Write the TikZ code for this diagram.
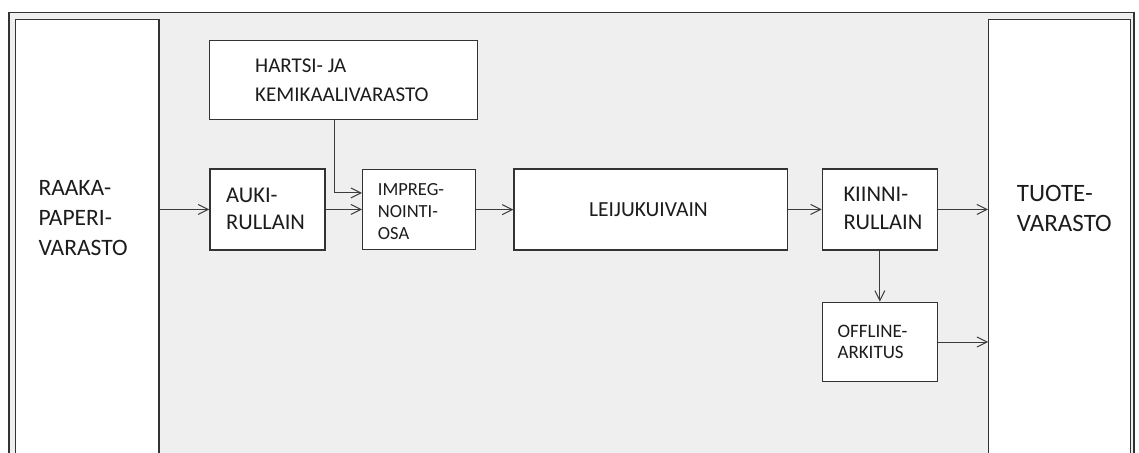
\documentclass[tikz,border=0pt]{standalone}
\usepackage{fontspec}
\setmainfont{Carlito}
\usetikzlibrary{arrows.meta,calc}
\definecolor{panel}{HTML}{EFEFEF}
\definecolor{edge}{HTML}{333333}
\definecolor{ink}{HTML}{1C1C1C}
\definecolor{wire}{HTML}{3C3C3C}
\tikzset{
  box/.style={draw=edge, line width=1.3pt, fill=white, inner sep=0pt, anchor=north west},
  txt/.style={text=ink, inner sep=0pt, align=left, anchor=base west},
  arr/.style={draw=wire, line width=1pt, -{Straight Barb[length=10pt,width=10pt]}},
}
\begin{document}
\begin{tikzpicture}[x=1pt,y=-1pt]
\useasboundingbox (0,0) rectangle (1139,452);
\clip (0,0) rectangle (1139,452);
% outer panel
\fill[white] (0,0) rectangle (1139,452);
\draw[draw=edge, line width=1.3pt, fill=panel] (9,12.5) rectangle (1134,470);

% boxes
\node[box, minimum width=143.3pt, minimum height=450pt] (raaka) at (15,19) {};
\node[box, minimum width=268pt, minimum height=79pt] (hartsi) at (209,40) {};
\node[box, minimum width=115pt, minimum height=81pt] (auki) at (209.3,168.3) {};
\node[box, minimum width=113pt, minimum height=80pt] (impreg) at (362,169) {};
\node[box, minimum width=273.4pt, minimum height=81pt] (leiju) at (513.3,168.3) {};
\node[box, minimum width=115pt, minimum height=81pt] (kiinni) at (821.7,168.3) {};
\node[box, minimum width=115pt, minimum height=79.3pt] (offline) at (821.7,301.7) {};
\node[box, minimum width=142pt, minimum height=450pt] (tuote) at (988,19) {};

% labels (anchored at the baseline of the last line)
\node[txt, font=\fontsize{23.5}{30}\selectfont] (raakaT) at (38.3,255.7) {RAAKA-\\PAPERI-\\VARASTO};
\node[txt, font=\fontsize{21}{29}\selectfont] (hartsiT) at (255,101.7) {HARTSI- JA\\KEMIKAALIVARASTO};
\node[txt, font=\fontsize{22.5}{26.7}\selectfont] (aukiT) at (226,229.3) {AUKI-\\RULLAIN};
\node[txt, font=\fontsize{18.5}{22}\selectfont] (impregT) at (377.7,239.3) {IMPREG-\\NOINTI-\\OSA};
\node[txt, font=\fontsize{21.5}{27}\selectfont] (leijuT) at (589,216) {LEIJUKUIVAIN};
\node[txt, font=\fontsize{22.5}{27.3}\selectfont] (kiinniT) at (843.3,229) {KIINNI-\\RULLAIN};
\node[txt, font=\fontsize{19}{20.7}\selectfont] (offlineT) at (837.3,358.3) {OFFLINE-\\ARKITUS};
\node[txt, font=\fontsize{25}{30.7}\selectfont] (tuoteT) at (1016.7,231.7) {TUOTE-\\VARASTO};

% connectors
\draw[arr] (raaka.east |- auki.west) -- (auki.west);
\draw[arr] (auki.east) -- (auki.east -| impreg.west);
\draw[arr] ([xshift=125.7pt]hartsi.south west) |- ([yshift=16.7pt]impreg.west);
\draw[arr] (impreg.east) -- (impreg.east -| leiju.west);
\draw[arr] (leiju.east) -- (leiju.east -| kiinni.west);
\draw[arr] (kiinni.east) -- (kiinni.east -| tuote.west);
\draw[arr] (kiinni.south) -- (offline.north);
\draw[arr] (offline.east) -- (offline.east -| tuote.west);
\end{tikzpicture}
\end{document}
